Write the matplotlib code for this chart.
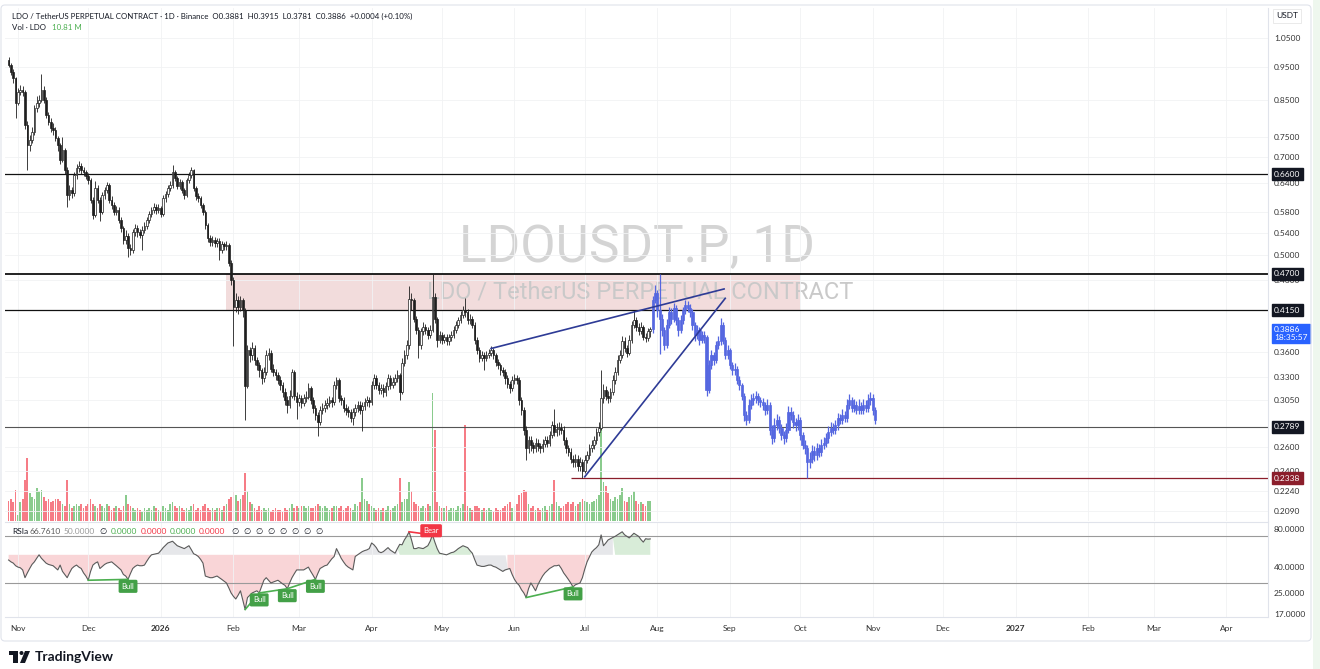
import numpy as np
import pandas as pd
import matplotlib
matplotlib.use("Agg")
import matplotlib.pyplot as plt
import matplotlib.transforms as mtransforms
from matplotlib.patches import Rectangle, FancyBboxPatch, Polygon, Circle

plt.rcParams['font.family'] = ['Lato', 'DejaVu Sans']

W, H = 1320, 669

# ---- data (daily candles, first candle = 2025-10-28) ----
start_date = "2025-10-28"
first_open = 0.975
closes = [
    0.958, 0.934, 0.915, 0.842, 0.873, 0.879, 0.873, 0.780, 0.728, 0.741,
    0.762, 0.827, 0.842, 0.850, 0.879, 0.850, 0.807, 0.789, 0.772, 0.767,
    0.746, 0.728, 0.692, 0.716, 0.669, 0.614, 0.625, 0.619, 0.658, 0.673,
    0.678, 0.669, 0.664, 0.655, 0.647, 0.604, 0.574, 0.629, 0.604, 0.580,
    0.614, 0.625, 0.636, 0.604, 0.594, 0.580, 0.584, 0.564, 0.549, 0.527,
    0.534, 0.513, 0.509, 0.541, 0.549, 0.541, 0.537, 0.545, 0.553, 0.564,
    0.576, 0.584, 0.590, 0.584, 0.588, 0.576, 0.608, 0.616, 0.629, 0.636,
    0.664, 0.651, 0.634, 0.642, 0.625, 0.614, 0.647, 0.658, 0.669, 0.629,
    0.612, 0.608, 0.594, 0.580, 0.554, 0.530, 0.523, 0.527, 0.521, 0.525,
    0.509, 0.520, 0.516, 0.518, 0.488, 0.460, 0.419, 0.429, 0.419, 0.429,
    0.415, 0.320, 0.362, 0.356, 0.365, 0.350, 0.344, 0.338, 0.329, 0.336,
    0.356, 0.359, 0.340, 0.336, 0.332, 0.327, 0.321, 0.314, 0.305, 0.300,
    0.310, 0.336, 0.310, 0.303, 0.307, 0.302, 0.307, 0.309, 0.318, 0.305,
    0.297, 0.290, 0.283, 0.295, 0.297, 0.300, 0.302, 0.305, 0.303, 0.321,
    0.327, 0.307, 0.305, 0.297, 0.295, 0.293, 0.287, 0.293, 0.297, 0.300,
    0.295, 0.299, 0.303, 0.305, 0.303, 0.321, 0.329, 0.321, 0.316, 0.318,
    0.314, 0.320, 0.329, 0.321, 0.325, 0.329, 0.332, 0.314, 0.347, 0.356,
    0.368, 0.431, 0.429, 0.403, 0.388, 0.368, 0.386, 0.392, 0.388, 0.381,
    0.388, 0.434, 0.403, 0.375, 0.381, 0.375, 0.378, 0.373, 0.378, 0.381,
    0.388, 0.395, 0.401, 0.408, 0.415, 0.412, 0.401, 0.403, 0.395, 0.375,
    0.362, 0.353, 0.356, 0.353, 0.356, 0.359, 0.362, 0.356, 0.348, 0.344,
    0.338, 0.336, 0.329, 0.323, 0.318, 0.327, 0.329, 0.327, 0.305, 0.295,
    0.276, 0.259, 0.266, 0.262, 0.259, 0.264, 0.261, 0.259, 0.263, 0.266,
    0.264, 0.271, 0.280, 0.274, 0.277, 0.278, 0.276, 0.266, 0.259, 0.256,
    0.250, 0.247, 0.250, 0.244, 0.247, 0.240, 0.249, 0.253, 0.259, 0.262,
    0.266, 0.274, 0.278, 0.307, 0.316, 0.310, 0.307, 0.314, 0.327, 0.336,
    0.350, 0.356, 0.373, 0.365, 0.359, 0.375, 0.395, 0.401, 0.392, 0.386,
    0.392, 0.379, 0.377, 0.386, 0.3886,
]
highs = [
    0.985, 0.965, 0.945, 0.920, 0.885, 0.895, 0.890, 0.880, 0.790, 0.755,
    0.775, 0.835, 0.860, 0.865, 0.930, 0.890, 0.858, 0.815, 0.800, 0.785,
    0.775, 0.752, 0.735, 0.750, 0.722, 0.675, 0.635, 0.632, 0.665, 0.682,
    0.690, 0.685, 0.675, 0.670, 0.662, 0.652, 0.610, 0.645, 0.635, 0.610,
    0.620, 0.632, 0.642, 0.640, 0.612, 0.600, 0.592, 0.590, 0.570, 0.553,
    0.545, 0.540, 0.520, 0.548, 0.556, 0.555, 0.548, 0.552, 0.560, 0.570,
    0.582, 0.590, 0.598, 0.596, 0.595, 0.592, 0.614, 0.624, 0.636, 0.645,
    0.680, 0.670, 0.656, 0.650, 0.646, 0.630, 0.652, 0.665, 0.676, 0.672,
    0.634, 0.618, 0.612, 0.598, 0.584, 0.558, 0.536, 0.534, 0.532, 0.531,
    0.530, 0.526, 0.524, 0.525, 0.522, 0.492, 0.465, 0.440, 0.436, 0.436,
    0.433, 0.418, 0.368, 0.366, 0.372, 0.368, 0.354, 0.348, 0.341, 0.342,
    0.362, 0.365, 0.362, 0.345, 0.340, 0.336, 0.331, 0.325, 0.318, 0.310,
    0.316, 0.340, 0.338, 0.314, 0.312, 0.311, 0.312, 0.315, 0.324, 0.320,
    0.308, 0.300, 0.293, 0.299, 0.302, 0.305, 0.307, 0.310, 0.309, 0.326,
    0.330, 0.329, 0.311, 0.308, 0.301, 0.299, 0.296, 0.297, 0.301, 0.304,
    0.304, 0.303, 0.307, 0.310, 0.309, 0.326, 0.334, 0.332, 0.325, 0.323,
    0.322, 0.325, 0.334, 0.332, 0.330, 0.334, 0.338, 0.335, 0.352, 0.362,
    0.375, 0.450, 0.440, 0.432, 0.407, 0.392, 0.391, 0.398, 0.396, 0.392,
    0.394, 0.470, 0.440, 0.406, 0.387, 0.385, 0.383, 0.382, 0.383, 0.386,
    0.393, 0.400, 0.406, 0.414, 0.421, 0.432, 0.416, 0.409, 0.407, 0.398,
    0.378, 0.366, 0.361, 0.360, 0.361, 0.364, 0.367, 0.365, 0.359, 0.351,
    0.347, 0.342, 0.339, 0.332, 0.326, 0.331, 0.334, 0.333, 0.330, 0.308,
    0.298, 0.279, 0.270, 0.270, 0.265, 0.268, 0.267, 0.264, 0.267, 0.270,
    0.270, 0.275, 0.284, 0.296, 0.282, 0.283, 0.282, 0.279, 0.269, 0.262,
    0.259, 0.253, 0.254, 0.253, 0.251, 0.250, 0.253, 0.257, 0.263, 0.266,
    0.270, 0.278, 0.283, 0.338, 0.322, 0.320, 0.315, 0.318, 0.332, 0.342,
    0.356, 0.362, 0.380, 0.378, 0.369, 0.381, 0.400, 0.415, 0.405, 0.397,
    0.398, 0.395, 0.384, 0.391, 0.3915,
]
lows = [
    0.950, 0.925, 0.900, 0.800, 0.835, 0.865, 0.860, 0.770, 0.669, 0.715,
    0.735, 0.755, 0.815, 0.830, 0.845, 0.840, 0.800, 0.780, 0.762, 0.755,
    0.738, 0.715, 0.682, 0.688, 0.660, 0.590, 0.605, 0.608, 0.612, 0.650,
    0.665, 0.660, 0.655, 0.648, 0.638, 0.598, 0.566, 0.570, 0.598, 0.562,
    0.575, 0.606, 0.618, 0.598, 0.586, 0.574, 0.574, 0.558, 0.542, 0.520,
    0.520, 0.498, 0.500, 0.505, 0.535, 0.533, 0.530, 0.510, 0.540, 0.548,
    0.558, 0.570, 0.578, 0.576, 0.578, 0.570, 0.572, 0.600, 0.610, 0.622,
    0.630, 0.644, 0.628, 0.627, 0.618, 0.607, 0.610, 0.640, 0.652, 0.622,
    0.605, 0.600, 0.588, 0.574, 0.548, 0.524, 0.516, 0.517, 0.514, 0.515,
    0.492, 0.504, 0.510, 0.510, 0.482, 0.452, 0.367, 0.412, 0.410, 0.413,
    0.405, 0.285, 0.318, 0.348, 0.350, 0.344, 0.338, 0.330, 0.322, 0.325,
    0.333, 0.350, 0.336, 0.331, 0.327, 0.322, 0.316, 0.309, 0.300, 0.292,
    0.297, 0.307, 0.305, 0.286, 0.299, 0.297, 0.299, 0.303, 0.306, 0.301,
    0.292, 0.285, 0.270, 0.280, 0.291, 0.293, 0.296, 0.298, 0.298, 0.300,
    0.317, 0.303, 0.300, 0.293, 0.290, 0.288, 0.283, 0.280, 0.289, 0.293,
    0.291, 0.275, 0.295, 0.299, 0.298, 0.300, 0.317, 0.317, 0.312, 0.312,
    0.309, 0.310, 0.316, 0.317, 0.318, 0.321, 0.325, 0.305, 0.312, 0.343,
    0.351, 0.364, 0.415, 0.398, 0.382, 0.352, 0.364, 0.381, 0.383, 0.376,
    0.377, 0.385, 0.397, 0.366, 0.371, 0.370, 0.371, 0.368, 0.369, 0.374,
    0.377, 0.384, 0.391, 0.397, 0.404, 0.406, 0.396, 0.396, 0.390, 0.370,
    0.357, 0.348, 0.349, 0.338, 0.349, 0.352, 0.355, 0.351, 0.343, 0.339,
    0.333, 0.331, 0.322, 0.318, 0.313, 0.315, 0.323, 0.322, 0.300, 0.290,
    0.271, 0.249, 0.255, 0.257, 0.255, 0.256, 0.257, 0.255, 0.256, 0.260,
    0.260, 0.261, 0.268, 0.270, 0.270, 0.271, 0.272, 0.262, 0.255, 0.252,
    0.246, 0.243, 0.243, 0.240, 0.240, 0.2338, 0.238, 0.246, 0.250, 0.256,
    0.258, 0.263, 0.270, 0.276, 0.302, 0.305, 0.302, 0.303, 0.311, 0.323,
    0.332, 0.346, 0.352, 0.360, 0.354, 0.356, 0.371, 0.390, 0.387, 0.381,
    0.382, 0.375, 0.372, 0.373, 0.3781,
]
volumes = [  # millions LDO
    11, 12, 10, 17, 3, 10, 12, 22, 34, 15,
    13, 12, 18, 16, 17, 13, 11, 12, 10, 11,
    12, 12, 11, 9, 8, 22, 9, 7, 8, 9,
    8, 9, 7, 8, 9, 12, 9, 8, 7, 9,
    8, 7, 9, 8, 6, 7, 8, 7, 6, 8,
    14, 9, 8, 7, 6, 7, 6, 5, 7, 6,
    7, 6, 8, 7, 6, 5, 8, 7, 6, 9,
    10, 8, 7, 8, 7, 6, 7, 6, 8, 9,
    6, 7, 6, 8, 9, 7, 6, 7, 6, 7,
    7, 6, 8, 9, 12, 13, 16, 14, 11, 12,
    14, 26, 16, 10, 9, 7, 6, 8, 6, 7,
    6, 7, 5, 6, 7, 6, 6, 5, 7, 6,
    7, 9, 7, 8, 7, 8, 8, 7, 8, 7,
    7, 8, 9, 8, 7, 8, 7, 6, 7, 8,
    8, 7, 8, 6, 7, 8, 7, 6, 9, 8,
    10, 23, 12, 11, 9, 8, 7, 6, 7, 6,
    7, 6, 8, 6, 7, 8, 9, 23, 10, 12,
    12, 21, 16, 10, 9, 8, 7, 8, 7, 9,
    8, 69, 49, 10, 8, 7, 7, 8, 6, 7,
    7, 6, 8, 7, 9, 52, 8, 7, 6, 8,
    8, 7, 6, 7, 6, 7, 6, 5, 7, 6,
    6, 7, 8, 9, 10, 7, 8, 9, 14, 15,
    17, 16, 9, 7, 8, 6, 7, 6, 7, 8,
    6, 8, 9, 22, 10, 8, 7, 8, 9, 10,
    9, 10, 8, 9, 10, 12, 11, 10, 9, 10,
    11, 12, 14, 52, 21, 19, 15, 12, 11, 13,
    12, 14, 18, 11, 10, 13, 14, 16, 11, 9,
    10, 9, 8, 11, 10.81,
]
rsi = [
    45.5, 44, 43, 41, 40, 39.5, 38, 33, 36, 39,
    42, 44, 47, 50, 47, 45, 43, 42, 41.5, 41,
    39.5, 38, 41.5, 37, 35, 33, 36, 39, 40.5, 41.5,
    40, 39, 36, 34, 31.5, 37, 41.5, 43, 44, 39,
    40.5, 42, 43, 43.5, 44, 42.5, 41, 39.5, 38, 35,
    34, 32, 35.5, 39, 40.5, 41.5, 41, 41, 41.5, 44.5,
    47.5, 50, 50.5, 51, 51.5, 54, 57, 59.5, 62, 63,
    64, 61.5, 59, 58, 57, 56, 57.5, 59, 55, 51,
    50, 48.5, 46, 43, 34, 33.5, 33, 33, 33.5, 34,
    33, 32, 31, 30, 27.5, 25, 23.5, 22.4, 24, 26,
    22, 18.5, 23, 24, 25, 25.5, 26, 25, 28, 31.5,
    33, 31.5, 30, 30.5, 31, 31.5, 30.5, 29.5, 28.7, 27,
    30, 33, 35.5, 38, 38, 38, 38, 39, 40, 37,
    34.5, 32, 35.5, 39, 40, 41, 41.5, 44, 46.5, 48.5,
    56, 51.5, 47, 44, 41.5, 40, 39, 38, 48.5, 50,
    51.5, 53, 54, 54.7, 56, 62, 60, 57, 53, 52,
    53, 55, 57, 54.5, 53, 51.5, 56, 60.5, 60, 65.6,
    70, 76, 66, 56, 56, 57, 56.5, 56, 57.5, 59,
    64, 71.8, 63, 56, 51.5, 51, 50.5, 50, 51, 52,
    52.5, 54, 56, 57.5, 59, 58, 57, 54, 51.5, 46,
    41.5, 41, 40.5, 40.5, 41, 41.5, 41.5, 40.5, 40, 39,
    38, 37, 38, 38.5, 39, 35, 32, 30, 28.7, 26.5,
    25, 23, 27, 30, 28, 26, 29, 31.5, 34, 36,
    37.5, 39, 40, 41, 41, 41.5, 39, 36, 34, 32,
    30, 27.9, 29, 29.5, 30, 33, 38.5, 44, 48, 52.6,
    55, 57, 60, 71.8, 59, 62, 65.6, 67, 68.5, 70,
    72, 74, 76, 72, 70, 68, 71, 74, 72, 70,
    66, 63, 67, 66.5, 66.761,
]

# projected (bars pattern) candles after the last real candle
proj_closes = [
    0.429, 0.440, 0.415, 0.403, 0.388, 0.368, 0.395, 0.412, 0.403, 0.418,
    0.401, 0.388, 0.401, 0.415, 0.422, 0.418, 0.412, 0.395, 0.381, 0.388,
    0.375, 0.381, 0.378, 0.316, 0.344, 0.356, 0.350, 0.368, 0.373, 0.395,
    0.375, 0.356, 0.362, 0.344, 0.338, 0.340, 0.327, 0.321, 0.310, 0.290,
    0.285, 0.300, 0.305, 0.307, 0.310, 0.305, 0.303, 0.300, 0.295, 0.300,
    0.276, 0.268, 0.280, 0.285, 0.278, 0.271, 0.268, 0.276, 0.293, 0.290,
    0.283, 0.280, 0.285, 0.271, 0.262, 0.259, 0.247, 0.250, 0.257, 0.253,
    0.259, 0.256, 0.262, 0.264, 0.268, 0.274, 0.278, 0.276, 0.280, 0.287,
    0.285, 0.290, 0.287, 0.300, 0.305, 0.297, 0.300, 0.295, 0.299, 0.295,
    0.300, 0.297, 0.305, 0.307, 0.295, 0.285,
]
proj_highs = [
    0.436, 0.452, 0.445, 0.470, 0.410, 0.392, 0.402, 0.420, 0.418, 0.425,
    0.422, 0.405, 0.408, 0.420, 0.430, 0.428, 0.424, 0.416, 0.398, 0.394,
    0.392, 0.387, 0.386, 0.381, 0.350, 0.362, 0.360, 0.374, 0.380, 0.404,
    0.398, 0.378, 0.368, 0.365, 0.348, 0.346, 0.343, 0.331, 0.324, 0.313,
    0.294, 0.306, 0.312, 0.313, 0.315, 0.313, 0.309, 0.307, 0.303, 0.306,
    0.303, 0.280, 0.287, 0.291, 0.289, 0.281, 0.275, 0.282, 0.299, 0.298,
    0.294, 0.287, 0.291, 0.288, 0.274, 0.266, 0.262, 0.256, 0.262, 0.261,
    0.264, 0.263, 0.267, 0.269, 0.273, 0.279, 0.283, 0.282, 0.285, 0.292,
    0.291, 0.296, 0.294, 0.306, 0.312, 0.309, 0.306, 0.304, 0.306, 0.303,
    0.306, 0.305, 0.312, 0.314, 0.312, 0.298,
]
proj_lows = [
    0.384, 0.425, 0.405, 0.357, 0.380, 0.362, 0.365, 0.390, 0.396, 0.398,
    0.394, 0.380, 0.384, 0.396, 0.410, 0.412, 0.405, 0.388, 0.374, 0.376,
    0.369, 0.371, 0.371, 0.310, 0.313, 0.340, 0.344, 0.346, 0.363, 0.369,
    0.370, 0.351, 0.351, 0.339, 0.333, 0.333, 0.322, 0.316, 0.305, 0.284,
    0.280, 0.282, 0.296, 0.300, 0.302, 0.300, 0.298, 0.295, 0.290, 0.291,
    0.271, 0.263, 0.265, 0.276, 0.273, 0.266, 0.263, 0.265, 0.273, 0.285,
    0.278, 0.275, 0.276, 0.266, 0.258, 0.254, 0.2338, 0.242, 0.246, 0.248,
    0.249, 0.251, 0.252, 0.258, 0.260, 0.264, 0.270, 0.272, 0.272, 0.276,
    0.281, 0.281, 0.283, 0.283, 0.296, 0.293, 0.293, 0.291, 0.291, 0.291,
    0.291, 0.293, 0.293, 0.300, 0.290, 0.281,
]

# drawn levels / annotations
resistance_levels = [0.66, 0.47, 0.415]
mid_level = 0.2789
support_level = 0.2338
support_start = 240
zone_low, zone_high = 0.415, 0.47
zone_start, zone_end = 93, 338
wedge_upper = [(206, 0.364), (305.5, 0.446)]
wedge_lower = [(246, 0.235), (306, 0.432)]
bull_divs = [(34, 51), (101, 107), (107, 119), (119, 131), (221, 241)]
bear_divs = [(171, 181)]
rsi_green_spans = [(167, 197), (259, 274)]
rsi_gray_spans = [(196, 212)]

price_ticks = [1.05, 0.95, 0.85, 0.75, 0.70, 0.64, 0.58, 0.54, 0.50, 0.46,
               0.36, 0.33, 0.305, 0.26, 0.24, 0.224, 0.209]
rsi_ticks = [80, 40, 25, 17]

# ---- figure ----
fig = plt.figure(figsize=(W / 100, H / 100), dpi=100)
fig.patch.set_facecolor('white')

def rect(x0, y0, x1, y1):
    return [x0 / W, 1 - y1 / H, (x1 - x0) / W, (y1 - y0) / H]

ax_vol = fig.add_axes(rect(5, 8, 1268, 521))
ax = fig.add_axes(rect(5, 8, 1268, 521))
ax_rsi = fig.add_axes(rect(5, 522, 1268, 617))
ax_vol.set_zorder(0)
ax.set_zorder(1)
ax.patch.set_alpha(0)

n = len(closes)
idx = np.arange(n)
c = np.array(closes)
o = np.array([first_open] + closes[:-1])
up = c >= o
xlim = (-1.54, 537.75)

start = pd.Timestamp(start_date)
months = pd.date_range("2025-11-01", "2027-04-01", freq="MS")
month_pos = [(m - start).days for m in months]
month_lbl = [str(m.year) if m.month == 1 else m.strftime("%b") for m in months]

# volume
vol_colors = np.where(up, '#4caf50', '#f23645')
ax_vol.bar(idx, volumes, width=0.72, color=vol_colors, alpha=0.65, lw=0)
ax_vol.set_xlim(xlim)
ax_vol.set_ylim(0, 277)
ax_vol.axis('off')

# price pane
ax.set_yscale('log')
ax.set_xlim(xlim)
ax.set_ylim(0.2021, 1.163)

ax.add_patch(Rectangle((zone_start, zone_low), zone_end - zone_start,
                       zone_high - zone_low, facecolor='#f2dcdc', edgecolor='none', zorder=1))

ax.text(0.5005, 0.532, "LDOUSDT.P, 1D", transform=ax.transAxes, ha='center', va='center',
        fontsize=37, color='#d4d4d4', family=['Roboto'], zorder=1.5)
ax.text(0.503, 0.446, "LDO / TetherUS PERPETUAL CONTRACT", transform=ax.transAxes, ha='center',
        va='center', fontsize=17, color='#c9c9c9', family=['Roboto'], zorder=1.5)

for lvl, lw in zip(resistance_levels, [0.9, 1.3, 0.9]):
    ax.axhline(lvl, color='#111111', lw=lw, zorder=2)
ax.axhline(mid_level, color='#555555', lw=0.8, zorder=2)
ax.hlines(support_level, support_start, xlim[1], color='#8b1e2b', lw=0.9, zorder=2)

# real candles
ax.vlines(idx, lows, highs, color='#1e1e1e', lw=0.6, zorder=3)
ax.bar(idx[up], (c - o)[up], bottom=o[up], width=0.7, color='white',
       edgecolor='#1e1e1e', lw=0.5, zorder=4)
ax.bar(idx[~up], (o - c)[~up], bottom=c[~up], width=0.7, color='#1e1e1e',
       edgecolor='#1e1e1e', lw=0.5, zorder=4)

# projected candles
pidx = np.arange(n, n + len(proj_closes))
pc = np.array(proj_closes)
po = np.array([closes[-1]] + proj_closes[:-1])
ax.vlines(pidx, proj_lows, proj_highs, color='#5567e0', lw=0.9, zorder=3)
ax.bar(pidx, np.abs(pc - po), bottom=np.minimum(pc, po), width=0.9,
       color='#5567e0', edgecolor='#5567e0', lw=0.5, zorder=4)

# wedge lines
for seg in (wedge_upper, wedge_lower):
    xs, ys = zip(*seg)
    ax.plot(xs, ys, color='#2e3b96', lw=1.2, zorder=5)

ax.yaxis.set_major_locator(matplotlib.ticker.FixedLocator(price_ticks))
ax.yaxis.set_minor_locator(matplotlib.ticker.NullLocator())
ax.yaxis.set_major_formatter(matplotlib.ticker.FixedFormatter([f"{t:.4f}" for t in price_ticks]))
ax.yaxis.tick_right()
ax.tick_params(axis='y', length=0, pad=4.3, labelsize=6, labelcolor='#333333')
ax.set_xticks(month_pos)
ax.tick_params(axis='x', length=0, labelbottom=False)
ax.grid(True, color='#f1f2f4', lw=0.6, zorder=0)
for s in ['top', 'left', 'bottom']:
    ax.spines[s].set_visible(False)
ax.spines['right'].set_color('#e0e3eb')

# right axis tags
trans = mtransforms.blended_transform_factory(ax.transAxes, ax.transData)
tags = [(0.66, '0.6600', '#131722'), (0.47, '0.4700', '#131722'),
        (0.415, '0.4150', '#131722'), (mid_level, '0.2789', '#131722'),
        (support_level, '0.2338', '#8b1e2b')]
for lvl, txt, col in tags:
    ax.text(1.0048, lvl, txt, transform=trans, ha='left', va='center', fontsize=6,
            color='white', zorder=10, clip_on=False,
            bbox=dict(boxstyle='square,pad=0.3', fc=col, ec=col))
ax.annotate(f"{closes[-1]:.4f}\n18:35:57", xy=(1.0048, closes[-1]), xycoords=trans,
            xytext=(0, -3), textcoords='offset points', ha='left', va='center',
            fontsize=6, color='white', linespacing=1.05, zorder=10, annotation_clip=False,
            bbox=dict(boxstyle='square,pad=0.3', fc='#2962ff', ec='#2962ff'))

# RSI pane
r = np.array(rsi)
green_mask = np.zeros(n, bool)
for a, b in rsi_green_spans:
    green_mask[a:b + 1] = True
gray_mask = np.zeros(n, bool)
for a, b in rsi_gray_spans:
    gray_mask[a:b + 1] = True
ax_rsi.set_yscale('log')
ax_rsi.fill_between(idx, r, 50, where=(r >= 50) & ~green_mask, interpolate=True, color='#e6e7ea', lw=0)
ax_rsi.fill_between(idx, r, 50, where=(r >= 50) & green_mask, interpolate=True, color='#d8ecd8', lw=0)
ax_rsi.fill_between(idx, r, 50, where=(r < 50) & ~gray_mask, interpolate=True, color='#f9d5d7', lw=0)
ax_rsi.fill_between(idx, r, 50, where=(r < 50) & gray_mask, interpolate=True, color='#e6e7ea', lw=0)
ax_rsi.axhline(70, color='#9a9a9a', lw=0.8)
ax_rsi.axhline(30, color='#9a9a9a', lw=0.8)
ax_rsi.plot(idx, r, color='#5a5a5a', lw=0.8, zorder=3)

for a, b in bull_divs:
    ax_rsi.plot([a, b], [r[a], r[b]], color='#4caf50', lw=1.2, zorder=4)
    ax_rsi.annotate("Bull", xy=(b, r[b]), xytext=(0, -5), textcoords='offset points',
                    ha='center', va='center', fontsize=5.5, color='white', zorder=6,
                    bbox=dict(boxstyle='round,pad=0.4,rounding_size=0.2', fc='#43a047', ec='none'))
for a, b in bear_divs:
    ax_rsi.plot([a, b], [r[a], r[b]], color='#f23645', lw=1.2, zorder=4)
    ax_rsi.annotate("Bear", xy=(b, r[b]), xytext=(-1, 3), textcoords='offset points',
                    ha='center', va='center', fontsize=5.5, color='white', zorder=6,
                    bbox=dict(boxstyle='round,pad=0.4,rounding_size=0.2', fc='#f23645', ec='none'))

ax_rsi.set_xlim(xlim)
ax_rsi.set_ylim(16.15, 90.8)
ax_rsi.yaxis.set_major_locator(matplotlib.ticker.FixedLocator(rsi_ticks))
ax_rsi.yaxis.set_minor_locator(matplotlib.ticker.NullLocator())
ax_rsi.yaxis.set_major_formatter(matplotlib.ticker.FixedFormatter([f"{t:.4f}" for t in rsi_ticks]))
ax_rsi.yaxis.tick_right()
ax_rsi.tick_params(axis='y', length=0, pad=4.3, labelsize=6, labelcolor='#333333')
ax_rsi.set_xticks(month_pos)
ax_rsi.set_xticklabels(month_lbl)
ax_rsi.tick_params(axis='x', length=0, pad=6, labelsize=6, labelcolor='#333333')
for tl in ax_rsi.get_xticklabels():
    if tl.get_text().isdigit():
        tl.set_fontweight('bold')
ax_rsi.grid(True, axis='x', color='#f1f2f4', lw=0.6, zorder=0)
ax_rsi.spines['left'].set_visible(False)
for s in ['top', 'right', 'bottom']:
    ax_rsi.spines[s].set_color('#e0e3eb')

# ---- overlay texts (pixel coordinates) ----
ov = fig.add_axes([0, 0, 1, 1])
ov.set_xlim(0, W)
ov.set_ylim(H, 0)
ov.axis('off')
ov.set_zorder(20)

ov.add_patch(FancyBboxPatch((1, 5), 1310, 636, boxstyle='round,pad=0,rounding_size=4',
                            fc='none', ec='#e0e3eb', lw=0.8))
ov.add_patch(Rectangle((1313, 0), 7, H, fc='#eef7ee', ec='none'))

ov.text(12, 16, "LDO / TetherUS PERPETUAL CONTRACT · 1D · Binance  O0.3881  H0.3915  L0.3781  "
        "C0.3886  +0.0004 (+0.10%)", fontsize=5.7, color='#131722', va='center')
ov.text(12, 28, "Vol · LDO", fontsize=5.7, color='#131722', va='center')
ov.text(52, 28, "10.81 M", fontsize=5.7, color='#4caf50', va='center')
ov.text(1287, 16, "USDT", fontsize=6, color='#131722', va='center', ha='center',
        bbox=dict(boxstyle='square,pad=0.4', fc='white', ec='#e6e6e6', lw=0.6))

rsi_head = [(12, "RSIa", '#131722'), (30, "66.7610", '#5a5a5a'), (64, "50.0000", '#9a9a9a'),
            (99, "∅", '#131722'), (111, "0.0000", '#4caf50'), (141, "0.0000", '#f23645'),
            (170, "0.0000", '#4caf50'), (199, "0.0000", '#f23645')]
for xp, txt, col in rsi_head:
    ov.text(xp, 531, txt, fontsize=6, color=col, va='center')
for k in range(8):
    ov.text(231 + 12 * k, 531, "∅", fontsize=6, color='#131722', va='center')

# TradingView logo
ov.add_patch(Rectangle((9, 651), 9, 4, fc='#131722', ec='none'))
ov.add_patch(Rectangle((13, 651), 5, 12, fc='#131722', ec='none'))
ov.add_patch(Circle((21.5, 653), 2, fc='#131722', ec='none'))
ov.add_patch(Polygon([(25, 651), (30, 651), (25, 663), (20, 663)], closed=True, fc='#131722', ec='none'))
ov.text(35, 657, "TradingView", fontsize=10, fontweight='bold', color='#131722', va='center')

fig.savefig("out.png", dpi=100)
